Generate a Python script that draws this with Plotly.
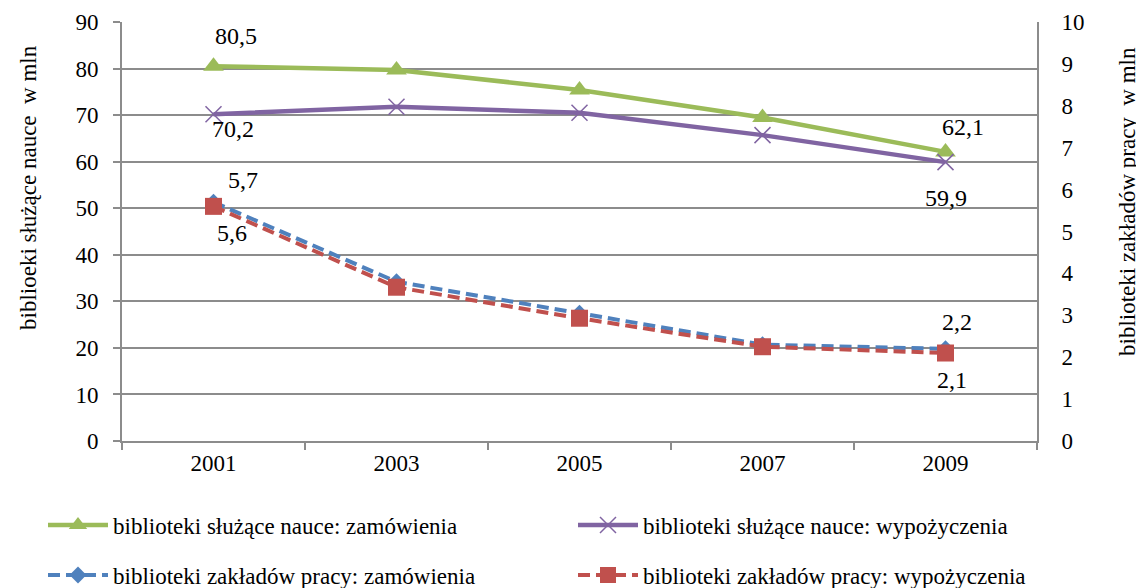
import plotly.graph_objects as go

years = ["2001", "2003", "2005", "2007", "2009"]

# biblioteki służące nauce (lewa oś)
nauka_zamowienia = [80.5, 79.7, 75.4, 69.5, 62.1]
nauka_wypozyczenia = [70.2, 71.8, 70.5, 65.7, 59.9]

# biblioteki zakładów pracy (prawa oś)
zaklady_zamowienia = [5.7, 3.8, 3.05, 2.3, 2.2]
zaklady_wypozyczenia = [5.6, 3.67, 2.93, 2.25, 2.1]

names = [
    "biblioteki służące nauce: zamówienia",
    "biblioteki służące nauce: wypożyczenia",
    "biblioteki zakładów pracy: zamówienia",
    "biblioteki zakładów pracy: wypożyczenia",
]

FONT = "Liberation Serif"
GRID = "#8c8c8c"
# the page body has an 8px margin, so the figure is 8px smaller and offset
OFF = 8
W, H = 1144 - OFF, 588 - OFF
L, R, T, B = 122 - OFF, 107, 22 - OFF, 147
pw, ph = W - L - R, H - T - B

fig = go.Figure()

fig.add_trace(go.Scatter(
    x=years, y=nauka_zamowienia, name=names[0], mode="lines+markers", legend="legend",
    line=dict(color="#9BBB59", width=4.5),
    marker=dict(symbol="triangle-up", size=18, color="#9BBB59"),
))
fig.add_trace(go.Scatter(
    x=years, y=nauka_wypozyczenia, name=names[1], mode="lines+markers", legend="legend2",
    line=dict(color="#8064A2", width=4.5),
    marker=dict(symbol="x-thin", size=16, line=dict(color="#8064A2", width=1.5)),
))
fig.add_trace(go.Scatter(
    x=years, y=zaklady_zamowienia, name=names[2], mode="lines+markers", yaxis="y2",
    legend="legend3",
    line=dict(color="#4F81BD", width=4, dash="12px,6px"),
    marker=dict(symbol="diamond", size=13, color="#4F81BD"),
))
fig.add_trace(go.Scatter(
    x=years, y=zaklady_wypozyczenia, name=names[3], mode="lines+markers", yaxis="y2",
    legend="legend4",
    line=dict(color="#C0504D", width=4, dash="12px,6px"),
    marker=dict(symbol="square", size=17, color="#C0504D"),
))

def fmt(v):
    return f"{v:.1f}".replace(".", ",")

# data labels: (series, index, axis, xshift, yshift)
labels = [
    (nauka_zamowienia, 0, "y", 22, 30),
    (nauka_wypozyczenia, 0, "y", 19, -15),
    (zaklady_zamowienia, 0, "y2", 29, 22),
    (zaklady_wypozyczenia, 0, "y2", 18, -27),
    (nauka_zamowienia, 4, "y", 17, 25),
    (nauka_wypozyczenia, 4, "y", 0, -36),
    (zaklady_zamowienia, 4, "y2", 11, 27),
    (zaklady_wypozyczenia, 4, "y2", 6, -27),
]
for series, i, yref, dx, dy in labels:
    fig.add_annotation(
        x=i, y=series[i], xref="x", yref=yref, text=fmt(series[i]),
        showarrow=False, xshift=dx, yshift=dy,
        font=dict(family=FONT, size=24, color="black"),
    )

# axis titles (page pixel positions -> paper coordinates)
for px, py, txt in [(28, 188, "biblioeki służące nauce  w mln"),
                    (1127, 202, "biblioteki zakładów pracy  w mln")]:
    fig.add_annotation(
        x=(px - OFF - L) / pw, y=(H - B - (py - OFF)) / ph, xref="paper", yref="paper",
        xanchor="center", yanchor="middle", text=txt,
        showarrow=False, textangle=-90,
        font=dict(family=FONT, size=23, color="black"),
    )

# one legend per entry, placed on a 2x2 grid below the plot (page pixels)
leg_pos = {"legend": (43, 525), "legend2": (573, 525),
           "legend3": (43, 575), "legend4": (573, 575)}
legends = {}
for key, (lx, ly) in leg_pos.items():
    legends[key] = dict(
        xref="container", yref="container",
        x=(lx - OFF) / W, y=1 - (ly - OFF) / H,
        xanchor="left", yanchor="middle", orientation="h",
        bgcolor="rgba(0,0,0,0)",
        font=dict(family=FONT, size=23, color="black"),
        itemwidth=60,
    )

fig.update_layout(
    width=W, height=H,
    margin=dict(l=L, r=R, t=T, b=B, autoexpand=False),
    paper_bgcolor="white", plot_bgcolor="white",
    font=dict(family=FONT, size=23, color="black"),
    xaxis=dict(
        type="category", range=[-0.5, 4.5], tickson="boundaries",
        showgrid=False, showline=True, linecolor=GRID, linewidth=2,
        ticks="outside", ticklen=7, tickcolor=GRID, tickwidth=2,
        tickfont=dict(family=FONT, size=23), ticklabelstandoff=0,
    ),
    yaxis=dict(
        range=[0, 90], dtick=10, showgrid=True, gridcolor=GRID, gridwidth=1.5,
        showline=True, linecolor=GRID, linewidth=2, zeroline=False,
        ticks="outside", ticklen=7, tickcolor=GRID, tickwidth=2,
        tickfont=dict(family=FONT, size=23), ticklabelstandoff=10,
    ),
    yaxis2=dict(
        range=[0, 10], dtick=1, overlaying="y", side="right", showgrid=False,
        showline=True, linecolor=GRID, linewidth=2, zeroline=False,
        ticks="outside", ticklen=18, tickcolor="rgba(0,0,0,0)",
        tickfont=dict(family=FONT, size=23),
    ),
    showlegend=True,
    **legends,
)

fig.write_html("out.html")
